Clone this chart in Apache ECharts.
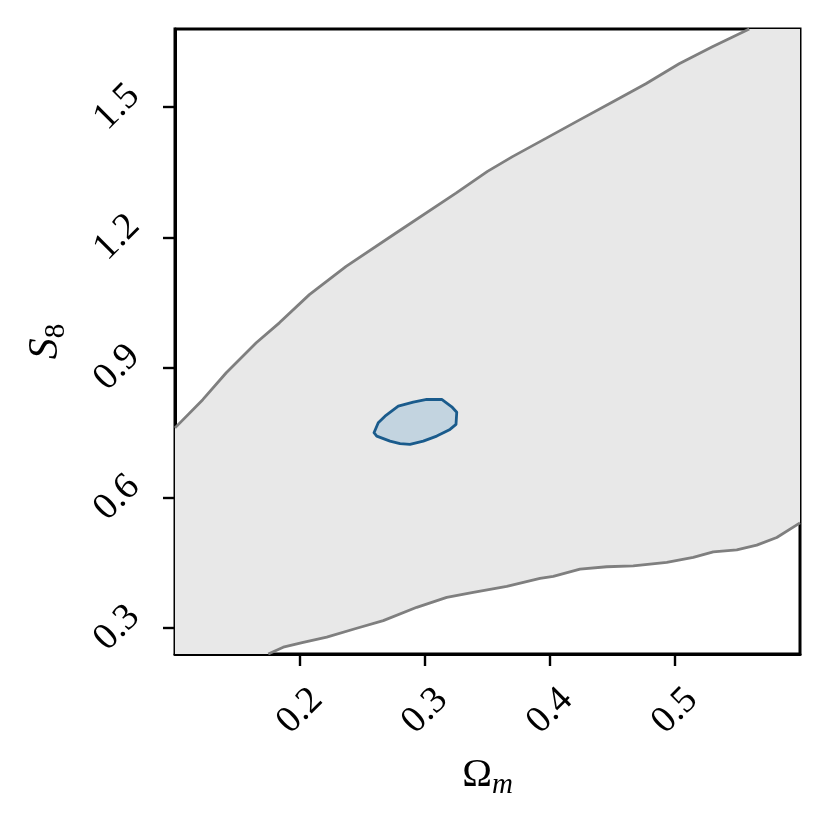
<!DOCTYPE html>
<html>
<head>
<meta charset="utf-8">
<script src="https://cdn.jsdelivr.net/npm/echarts@6/dist/echarts.min.js"></script>
<style>
html, body { margin: 0; padding: 0; background: #fff; }
#chart { width: 830px; height: 830px; }
</style>
</head>
<body>
<div id="chart"></div>
<script>
// axis limits and ticks
var xLimits = [0.1, 0.6];
var yLimits = [0.24, 1.68];
var xTicks = [0.2, 0.3, 0.4, 0.5];
var yTicks = [0.3, 0.6, 0.9, 1.2, 1.5];

// outer (grey) contour, upper edge
var upperX = [0.1, 0.1222, 0.141, 0.165, 0.1835, 0.2075, 0.2369, 0.2768, 0.3248, 0.35, 0.370, 0.3967, 0.4233, 0.450, 0.4767, 0.5033, 0.5299, 0.5594];
var upperY = [0.761, 0.826, 0.888, 0.957, 1.003, 1.068, 1.133, 1.210, 1.302, 1.352, 1.386, 1.428, 1.470, 1.512, 1.554, 1.600, 1.639, 1.68];

// outer (grey) contour, lower edge
var lowerX = [0.1746, 0.1866, 0.2026, 0.2214, 0.2454, 0.2666, 0.2934, 0.3174, 0.3386, 0.3654, 0.392, 0.4026, 0.424, 0.4454, 0.4666, 0.4934, 0.5146, 0.5306, 0.5494, 0.5654, 0.5814, 0.6];
var lowerY = [0.24, 0.2556, 0.267, 0.279, 0.2993, 0.3168, 0.3476, 0.3706, 0.382, 0.3958, 0.414, 0.419, 0.4356, 0.441, 0.4432, 0.451, 0.4625, 0.4755, 0.48, 0.4908, 0.5085, 0.542];

// inner (blue) contour
var innerX = [0.2592, 0.2626, 0.268, 0.2786, 0.2906, 0.3014, 0.3134, 0.3214, 0.3254, 0.3248, 0.32, 0.3094, 0.2986, 0.288, 0.28, 0.272, 0.2614];
var innerY = [0.7499, 0.7728, 0.788, 0.811, 0.8202, 0.8264, 0.8264, 0.8096, 0.797, 0.769, 0.7575, 0.742, 0.7306, 0.723, 0.7246, 0.7306, 0.742];

function zip(xs, ys) {
    var out = [];
    for (var i = 0; i < xs.length; i++) out.push([xs[i], ys[i]]);
    return out;
}

var upperPts = zip(upperX, upperY);
var lowerPts = zip(lowerX, lowerY);
var innerPts = zip(innerX, innerY);

// grey region: upper edge, top-right corner, lower edge back, bottom-left corner
var outerPts = upperPts
    .concat([[xLimits[1], yLimits[1]]])
    .concat(lowerPts.slice().reverse())
    .concat([[xLimits[0], yLimits[0]]]);

function polygonSeries(pts, fill, stroke, z) {
    return {
        type: 'custom',
        clip: true,
        z: z,
        silent: true,
        data: pts,
        encode: { x: 0, y: 1 },
        renderItem: function (params, api) {
            if (params.dataIndex !== 0) return null;
            var p = pts.map(function (d) { return api.coord(d); });
            return {
                type: 'polygon',
                shape: { points: p },
                style: {
                    fill: fill,
                    stroke: stroke || 'none',
                    lineWidth: stroke ? 2.8 : 0,
                    lineJoin: 'round'
                }
            };
        }
    };
}

var serif = '"Liberation Serif", "DejaVu Serif", serif';

var option = {
    backgroundColor: '#ffffff',
    animation: false,
    grid: {
        left: 175,
        top: 29,
        right: 30,
        bottom: 176,
        show: true,
        borderColor: '#000',
        borderWidth: 3,
        backgroundColor: 'transparent'
    },
    xAxis: {
        type: 'value',
        min: xLimits[0],
        max: xLimits[1],
        splitLine: { show: false },
        axisLine: { lineStyle: { color: '#000', width: 3 } },
        axisTick: {
            customValues: xTicks,
            length: 12,
            lineStyle: { color: '#000', width: 2.4 }
        },
        axisLabel: {
            customValues: xTicks,
            rotate: 45,
            align: 'center',
            verticalAlign: 'middle',
            margin: 57,
            color: '#000',
            fontFamily: serif,
            fontSize: 38,
            formatter: function (v) { return v.toFixed(1); }
        },
        name: '{o|Ω}{m|m}',
        nameLocation: 'middle',
        nameGap: 96,
        nameTextStyle: {
            rich: {
                o: { fontFamily: serif, fontSize: 40, color: '#000', lineHeight: 50, verticalAlign: 'middle' },
                m: { fontFamily: serif, fontStyle: 'italic', fontSize: 29, color: '#000', lineHeight: 50, verticalAlign: 'bottom' }
            }
        }
    },
    yAxis: {
        type: 'value',
        min: yLimits[0],
        max: yLimits[1],
        splitLine: { show: false },
        axisLine: { lineStyle: { color: '#000', width: 3 } },
        axisTick: {
            customValues: yTicks,
            length: 12,
            lineStyle: { color: '#000', width: 2.4 }
        },
        axisLabel: {
            customValues: yTicks,
            rotate: 45,
            align: 'center',
            verticalAlign: 'middle',
            margin: 58,
            color: '#000',
            fontFamily: serif,
            fontSize: 38,
            formatter: function (v) { return v.toFixed(1); }
        },
        name: '{s|S}{n|8}',
        nameLocation: 'middle',
        nameRotate: 90,
        nameGap: 104,
        nameTextStyle: {
            rich: {
                s: { fontFamily: serif, fontStyle: 'italic', fontSize: 42, color: '#000', lineHeight: 50, verticalAlign: 'middle' },
                n: { fontFamily: serif, fontSize: 29, color: '#000', lineHeight: 50, verticalAlign: 'bottom' }
            }
        }
    },
    series: [
        polygonSeries(outerPts, '#e8e8e8', null, 1),
        {
            type: 'line',
            data: upperPts,
            showSymbol: false,
            silent: true,
            z: 2,
            lineStyle: { color: '#7f7f7f', width: 2.8 }
        },
        {
            type: 'line',
            data: lowerPts,
            showSymbol: false,
            silent: true,
            z: 2,
            lineStyle: { color: '#7f7f7f', width: 2.8 }
        },
        polygonSeries(innerPts, '#c3d4e0', '#1a5b8c', 3)
    ]
};

var chart = echarts.init(document.getElementById('chart'), null, { renderer: 'canvas' });
chart.setOption(option);
</script>
</body>
</html>
